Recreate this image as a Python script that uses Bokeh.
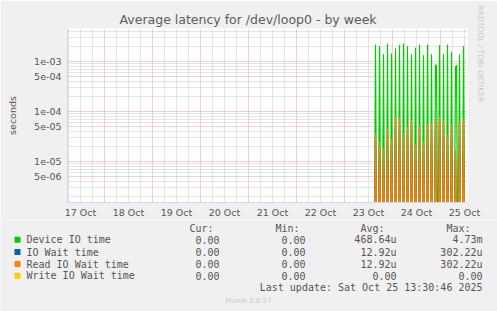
from datetime import datetime, timedelta
import numpy as np
from bokeh.plotting import figure
from bokeh.layouts import column, row
from bokeh.models import (FixedTicker, DatetimeTickFormatter, CustomJSTickFormatter,
                          Grid, Title, ColumnDataSource)
from bokeh.core.properties import value
from bokeh.embed import file_html
from bokeh.resources import INLINE

# ---------------- data ----------------
title = "Average latency for /dev/loop0 - by week"
y_label = "seconds"
x_start = "2025-10-17 05:30"
x_end = "2025-10-25 13:30"
y_min, y_max = 1.5e-6, 4.6e-3
day_ticks = ["2025-10-%02d 12:00" % d for d in range(17, 26)]
y_major = [5e-6, 1e-5, 5e-5, 1e-4, 5e-4, 1e-3]

sample_first = "2025-10-23 15:00"
sample_last = "2025-10-25 13:30"

green_peak_times = [
    "2025-10-23 15:30", "2025-10-23 17:30", "2025-10-23 19:30", "2025-10-23 21:30",
    "2025-10-23 23:30", "2025-10-24 01:30", "2025-10-24 03:30", "2025-10-24 05:30",
    "2025-10-24 07:30", "2025-10-24 09:30", "2025-10-24 11:30", "2025-10-24 13:30",
    "2025-10-24 15:30", "2025-10-24 17:30", "2025-10-24 19:30", "2025-10-24 21:30",
    "2025-10-24 22:00", "2025-10-24 23:30", "2025-10-25 01:30", "2025-10-25 03:30",
    "2025-10-25 05:30", "2025-10-25 07:30", "2025-10-25 08:00", "2025-10-25 09:30",
    "2025-10-25 11:30"]
green_peak_values = [
    2.14e-3, 1.99e-3, 1.38e-3, 2.24e-3, 1.42e-3, 1.79e-3, 2.08e-3, 2.24e-3,
    1.99e-3, 1.38e-3, 1.87e-3, 2.14e-3, 1.31e-3, 2.14e-3, 1.38e-3, 0.86e-3,
    0.81e-3, 2.08e-3, 1.38e-3, 2.14e-3, 1.53e-3, 0.77e-3, 0.83e-3, 1.36e-3,
    1.99e-3]

orange_peak_times = [
    "2025-10-23 15:30", "2025-10-23 17:30", "2025-10-23 19:30", "2025-10-23 21:30",
    "2025-10-23 23:30", "2025-10-24 01:30", "2025-10-24 03:30", "2025-10-24 05:30",
    "2025-10-24 07:30", "2025-10-24 09:30", "2025-10-24 11:30", "2025-10-24 13:30",
    "2025-10-24 15:30", "2025-10-24 17:30", "2025-10-24 19:30", "2025-10-24 21:30",
    "2025-10-24 23:30", "2025-10-25 01:30", "2025-10-25 03:30", "2025-10-25 05:30",
    "2025-10-25 07:30", "2025-10-25 09:30", "2025-10-25 11:30"]
orange_peak_values = [
    3.55e-5, 2.42e-5, 1.79e-5, 4.46e-5, 2.82e-5, 7.61e-5, 7.05e-5, 3.55e-5,
    4.81e-5, 6.53e-5, 2.18e-5, 5.04e-5, 2.42e-5, 5.36e-5, 5.87e-5, 6.53e-5,
    7.61e-5, 6.24e-5, 3.29e-5, 5.20e-5, 1.66e-5, 6.24e-5, 7.05e-5]

series_names = ["Device IO time", "IO Wait time", "Read IO Wait time", "Write IO Wait time"]
series_colors = ["#00CC00", "#0066B3", "#FF8000", "#FFCC00"]
stat_headers = ["Cur:", "Min:", "Avg:", "Max:"]
stat_cur = ["0.00", "0.00", "0.00", "0.00"]
stat_min = ["0.00", "0.00", "0.00", "0.00"]
stat_avg = ["468.64u", "12.92u", "12.92u", "0.00"]
stat_max = ["4.73m", "302.22u", "302.22u", "0.00"]
last_update = "Last update: Sat Oct 25 13:30:46 2025"
footer = "Munin 2.0.57"
watermark = "RRDTOOL / TOBI OETIKER"

# ---------------- helpers ----------------
EPOCH = datetime(1970, 1, 1)
def to_dt(s):
    return datetime.strptime(s, "%Y-%m-%d %H:%M")
def ms_dt(t):
    return (t - EPOCH).total_seconds() * 1000.0
def ms(s):
    return ms_dt(to_dt(s))

# 30-minute sample series: zero except at the read peaks
t0, t1 = to_dt(sample_first), to_dt(sample_last)
times = []
t = t0
while t <= t1:
    times.append(t)
    t += timedelta(minutes=30)
tms = [ms_dt(tt) for tt in times]
def build(peak_times, peak_values):
    d = {to_dt(a): v for a, v in zip(peak_times, peak_values)}
    return np.array([d.get(tt, 0.0) for tt in times])
green = build(green_peak_times, green_peak_values)
orange = build(orange_peak_times, orange_peak_values)
blue = orange.copy()
yellow = np.zeros(len(times))
FLOOR = y_min * 0.5  # zeros are drawn down to the bottom edge of the log axis
def disp(a):
    return np.where(a > 0, a, FLOOR)

# ---------------- main figure ----------------
FONT = "DejaVu Sans"
MONO = "DejaVu Sans Mono"
TXT = "#555555"
BG = "#F0F0F0"
TOP_H = 220

p = figure(width=497, height=TOP_H, x_axis_type="datetime", y_axis_type="log",
           x_range=(ms(x_start), ms(x_end)), y_range=(y_min, y_max),
           min_border_left=67, min_border_right=30, min_border_top=28, min_border_bottom=17,
           background_fill_color="white", border_fill_color=BG,
           outline_line_color=None, toolbar_location=None, output_backend="svg")
p.title.text = title
p.title.align = "left"
p.title.offset = 52
p.title.text_font = FONT
p.title.text_font_size = "12.5px"
p.title.text_font_style = "normal"
p.title.text_color = "#5c5c5c"
p.title.standoff = 3

p.add_layout(Title(text=watermark, align="left", offset=-23, text_font=FONT,
                   text_font_size="7.5px", text_font_style="normal",
                   text_color="#C8C8C8", standoff=17), "right")

p.xgrid.grid_line_color = None
p.ygrid.grid_line_color = None

six_h, mid = [], []
t = to_dt(x_start).replace(hour=0, minute=0)
while t <= to_dt(x_end):
    if t >= to_dt(x_start):
        (mid if t.hour == 0 else six_h).append(ms_dt(t))
    t += timedelta(hours=6)
ymin_ticks, ymaj_ticks = [], []
for e in range(-7, -1):
    for m in range(1, 10):
        v = m * 10.0 ** e
        if y_min <= v <= y_max:
            (ymaj_ticks if m in (1, 5) else ymin_ticks).append(v)

GRAY = "#CACACA"
RED = "#EA9C9C"
for dim, ticks, col in [(0, six_h, GRAY), (1, ymin_ticks, GRAY), (0, mid, RED), (1, ymaj_ticks, RED)]:
    p.add_layout(Grid(dimension=dim, ticker=FixedTicker(ticks=ticks), grid_line_color=col,
                      grid_line_dash="1 1", grid_line_width=1))

p.xaxis.ticker = FixedTicker(ticks=[ms(s) for s in day_ticks])
p.xaxis.formatter = DatetimeTickFormatter(days="%d %b", hours="%d %b", months="%d %b",
                                          minutes="%d %b", hourmin="%d %b")
p.yaxis.ticker = FixedTicker(ticks=y_major)
p.yaxis.formatter = CustomJSTickFormatter(
    code="return tick.toExponential(0).replace(/e([+-])(\\d)$/, 'e$10$2');")
for ax in (p.xaxis[0], p.yaxis[0]):
    ax.axis_line_color = "#CFD6F8"
    ax.major_tick_line_color = None
    ax.minor_tick_line_color = None
    ax.major_tick_out = 0
    ax.major_tick_in = 0
    ax.minor_tick_out = 0
    ax.major_label_text_font = FONT
    ax.major_label_text_font_size = "9.5px"
    ax.major_label_text_color = TXT
p.xaxis.major_label_standoff = 4
p.yaxis.major_label_standoff = 6
p.yaxis.axis_label = y_label
p.yaxis.axis_label_text_font = FONT
p.yaxis.axis_label_text_font_size = "9.5px"
p.yaxis.axis_label_text_font_style = "normal"
p.yaxis.axis_label_text_color = TXT
p.yaxis.axis_label_standoff = 13

widths = [1.2, 1.0, 1.2, 1.0]
for arr, col, w in zip([green, blue, orange, yellow], series_colors, widths):
    p.line(x=tms, y=disp(arr), line_color=col, line_width=w, line_join="round")

# ---------------- legend area (pixel layout, y downwards) ----------------
LEG_H = 311 - TOP_H
q = figure(width=497, height=LEG_H, x_range=(0, 497), y_range=(LEG_H, 0),
           min_border=0, background_fill_color=BG, border_fill_color=BG,
           x_axis_location=None, y_axis_location=None,
           outline_line_color=None, toolbar_location=None, output_backend="svg")
q.grid.visible = False

def texts(xs, ys, strs, align, size="10px", font=MONO, color=TXT):
    src = ColumnDataSource(dict(x=xs, y=ys, t=strs))
    q.text(x="x", y="y", text="t", source=src, text_align=align, text_baseline="middle",
           text_font=value(font), text_font_size=value(size), text_color=color)

off = TOP_H
hdr_y = 227.7 - off
row_y = [239.3 - off, 251.5 - off, 263.5 - off, 275.3 - off]
texts([213, 299, 384, 470], [hdr_y] * 4, stat_headers, "right")
q.rect(x=[17] * 4, y=row_y, width=6, height=6, fill_color=series_colors, line_color=None)
texts([26] * 4, row_y, series_names, "left")
texts([219] * 4, row_y, stat_cur, "right")
texts([305] * 4, row_y, stat_min, "right")
texts([396] * 4, row_y, stat_avg, "right")
texts([482] * 4, row_y, stat_max, "right")
texts([482], [287.3 - off], [last_update], "right")
texts([248], [300 - off], [footer], "center", "7px", FONT, "#C8C8C8")

layout = column(p, row(q, spacing=0), spacing=0)
open("out.html", "w").write(file_html(layout, INLINE))
